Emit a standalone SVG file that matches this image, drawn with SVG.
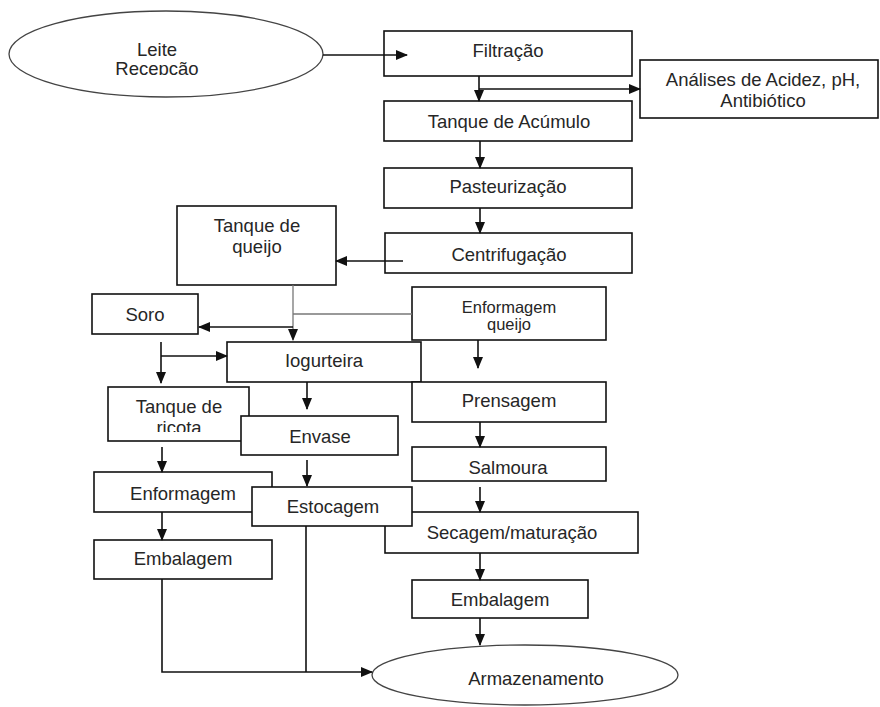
<svg xmlns="http://www.w3.org/2000/svg" width="880" height="707" viewBox="0 0 880 707">
<style>
.n rect{fill:#fff;stroke:#111;stroke-width:1.6}
.n ellipse{fill:#fff;stroke:#444;stroke-width:1.3}
text{font-family:"Liberation Sans",Arial,sans-serif;font-size:18.5px;fill:#262626;text-anchor:middle}
.sm{font-size:16.5px}
.c line,.c polyline{stroke:#111;stroke-width:1.6;fill:none}
.c .g{stroke:#777;stroke-width:1.3}
</style>
<defs>
<marker id="ah" markerWidth="12" markerHeight="10" refX="11" refY="5" orient="auto" markerUnits="userSpaceOnUse">
<path d="M0,0 L12,5 L0,10 Z" fill="#111"/>
</marker>
<clipPath id="clipRec"><rect x="0" y="0" width="330" height="75"/></clipPath>
<clipPath id="clipRic"><rect x="100" y="415" width="160" height="17"/></clipPath>
</defs>
<rect width="880" height="707" fill="#fff"/>
<g id="leite" class="n"><ellipse cx="166" cy="54" rx="157" ry="43"/><text x="157" y="56">Leite</text><text x="157" y="75" clip-path="url(#clipRec)">Recepção</text></g>
<g id="filtracao" class="n"><rect x="384" y="31" width="248" height="45"/><text x="508" y="57">Filtração</text></g>
<g id="analises" class="n"><rect x="640" y="60" width="238" height="58"/><text x="763" y="86">Análises de Acidez, pH,</text><text x="763" y="107">Antibiótico</text></g>
<g id="tanque-acumulo" class="n"><rect x="384" y="101" width="248" height="40"/><text x="509" y="128">Tanque de Acúmulo</text></g>
<g id="pasteurizacao" class="n"><rect x="384" y="168" width="248" height="40"/><text x="508" y="193">Pasteurização</text></g>
<g id="centrifugacao" class="n"><rect x="385" y="233" width="247" height="40"/><text x="509" y="261">Centrifugação</text></g>
<g id="tanque-queijo" class="n"><rect x="177" y="206" width="159" height="79"/><text x="257" y="232">Tanque de</text><text x="257" y="253">queijo</text></g>
<g id="enformagem-queijo" class="n"><rect x="412" y="287" width="194" height="53"/><text class="sm" x="509" y="313">Enformagem</text><text class="sm" x="509" y="330">queijo</text></g>
<g id="soro" class="n"><rect x="92" y="294" width="106" height="40"/><text x="145" y="321">Soro</text></g>
<g id="iogurteira" class="n"><rect x="227" y="342" width="194" height="40"/><text x="324" y="367">Iogurteira</text></g>
<g id="prensagem" class="n"><rect x="412" y="382" width="194" height="40"/><text x="509" y="407">Prensagem</text></g>
<g id="tanque-ricota" class="n"><rect x="108" y="387" width="141" height="54"/><text x="179" y="413">Tanque de</text><text x="179" y="434" clip-path="url(#clipRic)">ricota</text></g>
<g id="envase" class="n"><rect x="241" y="416" width="157" height="39"/><text x="320" y="443">Envase</text></g>
<g id="salmoura" class="n"><rect x="412" y="447" width="194" height="34"/><text x="508" y="474">Salmoura</text></g>
<g id="enformagem" class="n"><rect x="94" y="472" width="178" height="40"/><text x="183" y="500">Enformagem</text></g>
<g id="secagem" class="n"><rect x="385" y="512" width="253" height="41"/><text x="512" y="539">Secagem/maturação</text></g>
<g id="estocagem" class="n"><rect x="252" y="487" width="160" height="39"/><text x="333" y="513">Estocagem</text></g>
<g id="embalagem-ricota" class="n"><rect x="94" y="540" width="178" height="39"/><text x="183" y="565">Embalagem</text></g>
<g id="embalagem-queijo" class="n"><rect x="412" y="580" width="176" height="38"/><text x="500" y="606">Embalagem</text></g>
<g id="armazenamento" class="n"><ellipse cx="525" cy="675" rx="153" ry="30"/><text x="536" y="685">Armazenamento</text></g>
<g id="connectors" class="c">
<line x1="323" y1="55" x2="407" y2="55" marker-end="url(#ah)"/>
<line x1="479" y1="76" x2="479" y2="101" marker-end="url(#ah)"/>
<line x1="479" y1="89" x2="640" y2="89" marker-end="url(#ah)"/>
<line x1="480" y1="141" x2="480" y2="168" marker-end="url(#ah)"/>
<line x1="480" y1="208" x2="480" y2="233" marker-end="url(#ah)"/>
<line x1="403" y1="261" x2="336" y2="261" marker-end="url(#ah)"/>
<line class="g" x1="293" y1="285" x2="293" y2="340" marker-end="url(#ah)"/>
<line class="g" x1="412" y1="314" x2="293" y2="314"/>
<line x1="293" y1="327" x2="199" y2="327" marker-end="url(#ah)"/>
<line x1="161" y1="342" x2="161" y2="383" marker-end="url(#ah)"/>
<line x1="161" y1="356" x2="227" y2="356" marker-end="url(#ah)"/>
<line x1="478" y1="340" x2="478" y2="368" marker-end="url(#ah)"/>
<line x1="307" y1="382" x2="307" y2="409" marker-end="url(#ah)"/>
<line x1="162" y1="447" x2="162" y2="472" marker-end="url(#ah)"/>
<line x1="307" y1="460" x2="307" y2="486" marker-end="url(#ah)"/>
<line x1="162" y1="512" x2="162" y2="540" marker-end="url(#ah)"/>
<line x1="480" y1="422" x2="480" y2="447" marker-end="url(#ah)"/>
<line x1="480" y1="487" x2="480" y2="512" marker-end="url(#ah)"/>
<line x1="480" y1="553" x2="480" y2="580" marker-end="url(#ah)"/>
<line x1="480" y1="618" x2="480" y2="645" marker-end="url(#ah)"/>
<polyline points="162,579 162,672 372,672" marker-end="url(#ah)"/>
<line x1="306" y1="526" x2="306" y2="672"/>
</g>
</svg>
